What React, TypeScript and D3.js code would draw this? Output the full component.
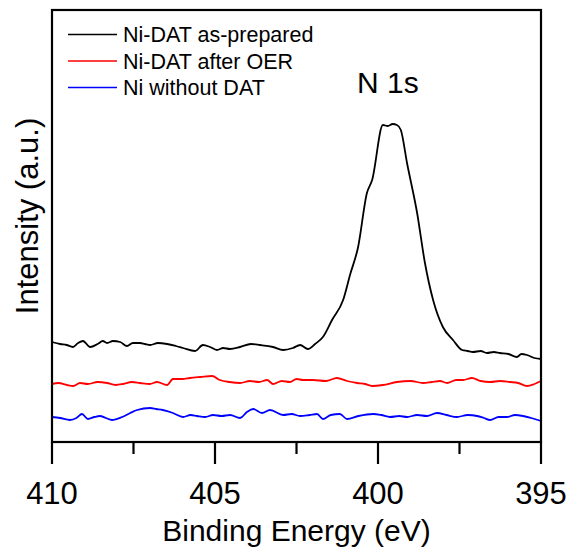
import React from "react";
import * as d3 from "d3";

const blackE = [410.0, 409.75, 409.55, 409.36, 409.2, 409.05, 408.83, 408.6, 408.44, 408.31, 408.13, 407.91, 407.7, 407.52, 407.3, 407.15, 406.99, 406.75, 406.47, 406.2, 405.98, 405.61, 405.37, 405.15, 404.94, 404.75, 404.54, 404.23, 403.9, 403.62, 403.22, 402.91, 402.61, 402.39, 402.15, 401.93, 401.69, 401.41, 401.07, 400.85, 400.61, 400.34, 400.18, 399.85, 399.7, 399.55, 399.42, 399.3, 399.11, 398.8, 398.56, 398.31, 398.01, 397.7, 397.42, 397.25, 397.09, 396.85, 396.66, 396.45, 396.26, 396.0, 395.74, 395.6, 395.43, 395.2, 395.0];
const blackI = [100, 98, 97, 95, 99, 101, 95, 98, 101, 99, 101, 100, 96, 99, 99, 98, 97, 99, 98, 96, 94, 91, 97, 95, 92, 94, 93, 95, 98, 97, 95, 92, 94, 97, 93, 98, 105, 122, 142, 168, 195, 249, 262, 317, 316, 318, 317, 312, 279, 229, 179, 142, 115, 102, 92, 91, 90, 91, 89, 90, 89, 88, 85, 88, 87, 84, 83];

const redE = [410.0, 409.8, 409.54, 409.35, 409.14, 408.9, 408.6, 408.31, 408.05, 407.82, 407.55, 407.3, 407.0, 406.78, 406.47, 406.29, 406.0, 405.77, 405.45, 405.09, 404.85, 404.55, 404.23, 403.93, 403.65, 403.4, 403.22, 402.95, 402.7, 402.5, 402.3, 401.99, 401.6, 401.26, 400.95, 400.64, 400.4, 400.18, 399.85, 399.42, 399.0, 398.62, 398.35, 398.1, 397.88, 397.6, 397.39, 397.12, 396.85, 396.56, 396.25, 395.95, 395.7, 395.43, 395.2, 395.0];
const redI = [58, 59, 57, 56, 59, 58, 60, 59, 57, 58, 60, 59, 58, 60, 57, 63, 63, 64, 65, 66, 62, 60, 59, 61, 60, 62, 58, 61, 60, 63, 62, 62, 61, 64, 61, 59, 58, 56, 57, 60, 61, 59, 60, 61, 59, 62, 62, 64, 61, 60, 61, 60, 59, 56, 58, 61];

const blueE = [410.0, 409.75, 409.45, 409.25, 409.08, 408.9, 408.7, 408.53, 408.35, 408.16, 407.85, 407.6, 407.39, 406.99, 406.8, 406.6, 406.29, 405.98, 405.75, 405.55, 405.3, 405.06, 404.8, 404.54, 404.23, 404.02, 403.83, 403.56, 403.31, 402.91, 402.65, 402.39, 402.1, 401.87, 401.69, 401.45, 401.17, 400.95, 400.6, 400.15, 399.9, 399.63, 399.35, 399.11, 398.8, 398.5, 398.19, 397.9, 397.58, 397.25, 396.96, 396.75, 396.56, 396.3, 396.04, 395.8, 395.55, 395.3, 395.0];
const blueI = [25, 24, 22, 24, 28, 23, 25, 26, 24, 22, 25, 29, 32, 34, 33, 32, 29, 25, 27, 26, 25, 27, 26, 27, 24, 30, 33, 29, 32, 27, 28, 26, 27, 28, 23, 27, 28, 23, 26, 28, 27, 25, 26, 25, 27, 26, 29, 27, 25, 27, 26, 24, 22, 25, 25, 27, 26, 24, 21];

const series = [
  { name: "Ni-DAT as-prepared", color: "#000000", e: blackE, v: blackI },
  { name: "Ni-DAT after OER", color: "#ff0000", e: redE, v: redI },
  { name: "Ni without DAT", color: "#0000ff", e: blueE, v: blueI },
];

const majorTicks = [410, 405, 400, 395];
const minorTicks = [407.5, 402.5, 397.5];

export default function App() {
  const left = 52, right = 541, top = 10, bottom = 442;
  const x = d3.scaleLinear().domain([410, 395]).range([left, right]);
  const y = d3.scaleLinear().domain([0, 432]).range([bottom, top]);
  const line = d3
    .line<[number, number]>()
    .x((d) => x(d[0]))
    .y((d) => y(d[1]))
    .curve(d3.curveMonotoneX);
  const font = "Liberation Sans, Arial, sans-serif";

  return (
    <svg
      width={571}
      height={550}
      style={{ position: "absolute", left: 0, top: 0 }}
      fontFamily={font}
    >
      <rect width={571} height={550} fill="#fff" />
      {series.map((s) => (
        <path
          key={s.name}
          d={line(s.e.map((e, i) => [e, s.v[i]] as [number, number])) || ""}
          fill="none"
          stroke={s.color}
          strokeWidth={1.8}
          strokeLinejoin="round"
        />
      ))}
      <rect
        x={left}
        y={top}
        width={right - left}
        height={bottom - top}
        fill="none"
        stroke="#000"
        strokeWidth={2.2}
      />
      {majorTicks.map((t) => (
        <g key={t}>
          <line x1={x(t)} x2={x(t)} y1={bottom} y2={bottom + 22} stroke="#000" strokeWidth={2.2} />
          <text x={x(t)} y={504} textAnchor="middle" fontSize={31} fill="#000">
            {t}
          </text>
        </g>
      ))}
      {minorTicks.map((t) => (
        <line key={t} x1={x(t)} x2={x(t)} y1={bottom} y2={bottom + 12} stroke="#000" strokeWidth={2.2} />
      ))}
      <text x={(left + right) / 2} y={541} textAnchor="middle" fontSize={30} fill="#000">
        Binding Energy (eV)
      </text>
      <text
        transform={`translate(38,216) rotate(-90)`}
        textAnchor="middle"
        fontSize={31}
        fill="#000"
      >
        Intensity (a.u.)
      </text>
      <text x={357} y={93} fontSize={30} fill="#000">
        N 1s
      </text>
      {series.map((s, i) => (
        <g key={s.name} transform={`translate(0,${34.5 + i * 26.5})`}>
          <line x1={68} x2={117} y1={0} y2={0} stroke={s.color} strokeWidth={1.6} />
          <text x={123} y={7.5} fontSize={21.5} fill="#000">
            {s.name}
          </text>
        </g>
      ))}
    </svg>
  );
}
